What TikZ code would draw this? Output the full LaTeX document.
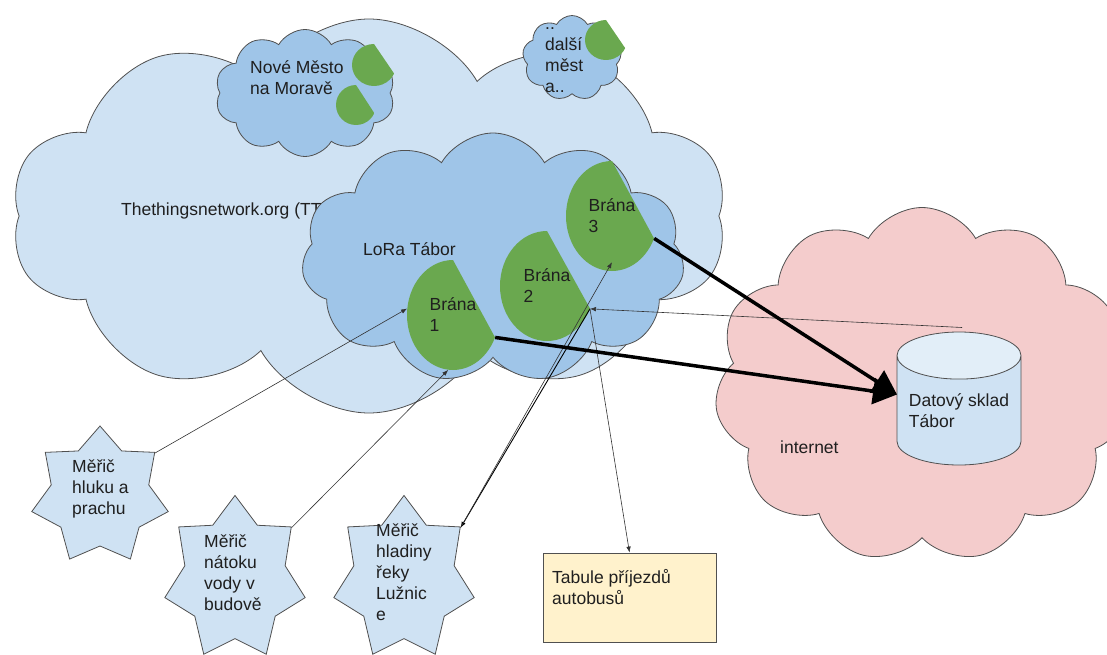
\documentclass[tikz,border=0pt]{standalone}
\usepackage{fontspec}
\setmainfont{Liberation Sans}
\usetikzlibrary{shapes.symbols,shapes.geometric,arrows.meta,calc}
\definecolor{ttnblue}{HTML}{CFE2F3}
\definecolor{lorablue}{HTML}{9FC5E8}
\definecolor{gwgreen}{HTML}{6AA84F}
\definecolor{netpink}{HTML}{F4CCCC}
\definecolor{boardyellow}{HTML}{FFF2CC}
\definecolor{outline}{HTML}{505050}
\tikzset{
  txt/.style={font=\fontsize{17.5}{21}\selectfont, align=left, inner sep=0pt, text=black!88},
  mrak/.style={cloud, draw=outline, line width=0.8pt, cloud puff arc=120, inner sep=0pt},
  gateway/.style={ellipse, inner sep=0pt, txt,
    path picture={\fill[gwgreen] (path picture bounding box.north)
      -- ($(path picture bounding box.east)!0.54!(path picture bounding box.south east)$)
      -- (path picture bounding box.south east) -- (path picture bounding box.south west)
      -- (path picture bounding box.north west) -- cycle;}},
  sensor/.style={star, star points=7, star point ratio=1.4, draw=outline, fill=ttnblue,
    line width=0.8pt, inner sep=0pt, minimum size=#1},
  link/.style={draw=black!80, line width=0.6pt, -{Latex[length=6pt,width=4.5pt]}},
  uplink/.style={line width=3.5pt, -{Triangle[length=24pt,width=26pt]}},
}
\begin{document}
\begin{tikzpicture}[x=1pt,y=-1pt]
	\useasboundingbox (0,0) rectangle (1107,655);
	% clouds
	\node (TTN) at (369,216) [mrak, fill=ttnblue, cloud puffs=10, aspect=1.8, minimum width=716pt, minimum height=394pt] {};
	\node (TTNtext) at (121,215) [txt, anchor=base west] {Thethingsnetwork.org (TTN)};
	\node (NM) at (305,93) [mrak, fill=lorablue, cloud puffs=10, aspect=1.4, minimum width=180pt, minimum height=127pt] {};
	\node (NMtext) at (250,95) [txt, anchor=base west] {Nové Město\\na Moravě};
	\node (NMg1) at (374,65) [gateway, minimum width=44pt, minimum height=42pt] {};
	\node (NMg2) at (356,105) [gateway, minimum width=40pt, minimum height=40pt] {};
	\node (DM) at (572,58) [mrak, fill=lorablue, cloud puffs=9, aspect=1.2, minimum width=99pt, minimum height=85pt] {};
	\node (DMtext) at (545,93) [txt, anchor=base west] {..\\další\\měst\\a..};
	\node (DMg) at (606,40) [gateway, minimum width=42pt, minimum height=40pt] {};
	\node (LoRa) at (493,258) [mrak, fill=lorablue, cloud puffs=11, aspect=1.5, minimum width=383pt, minimum height=250pt] {};
	\node (LoRatext) at (363,255) [txt, anchor=base west] {LoRa Tábor};
	\node (NET) at (922,385) [mrak, fill=netpink, cloud puffs=11, aspect=1.1, minimum width=415pt, minimum height=355pt] {};
	\node (NETtext) at (780,453) [txt, anchor=base west] {internet};
	% gateways
	\node (B1) at (453,315) [gateway, minimum width=92pt, minimum height=110pt] {Brána\\1};
	\node (B2) at (547,286) [gateway, minimum width=94pt, minimum height=110pt] {Brána\\2};
	\node (B3) at (612,216) [gateway, minimum width=92pt, minimum height=110pt] {Brána\\3};
	% data store and board
	\node (sklad) at (959,398.5) [cylinder, shape border rotate=90, shape aspect=0.47, draw=outline, line width=0.8pt,
		cylinder uses custom fill, cylinder body fill=ttnblue, cylinder end fill=ttnblue!60!white,
		minimum width=124pt, minimum height=133pt, txt, anchor=shape center] {Datový sklad\\Tábor};
	\coordinate (skladtop) at ($(sklad.shape center)+(3,-71)$);
	\coordinate (skladin) at ($(sklad.shape center)+(-62,-4)$);
	\node (tabule) at (629.5,597.5) [rectangle, draw=outline, line width=0.8pt, fill=boardyellow, minimum width=173pt, minimum height=89pt] {};
	\node (tabuletext) at (552,604) [txt, anchor=base west] {Tabule příjezdů\\autobusů};
	% sensors
	\node (M1) at (100,496) [sensor=140pt] {};
	\node (M1text) at (72,514) [txt, anchor=base west] {Měřič\\hluku a\\prachu};
	\node (M2) at (235,579) [sensor=144pt, yscale=1.16, transform shape] {};
	\node (M2text) at (204,610) [txt, anchor=base west] {Měřič\\nátoku\\vody v\\budově};
	\node (M3) at (404,579) [sensor=144pt, yscale=1.16, transform shape] {};
	\node (M3text) at (376,620) [txt, anchor=base west] {Měřič\\hladiny\\řeky\\Lužnic\\e};
	% connectors
	\draw[link] (M1.38.57) -- (B1.172);
	\draw[link] (M2.38.57) -- (B1.265);
	\draw[link, draw=black, line width=0.9pt] (B2.-28) -- (M3.38.57);
	\draw[link] (M3.38.57) -- ([yshift=9pt]B3.south);
	\draw[link] (skladtop) -- (B2.-28);
	\draw[link] (B2.-28) -- (tabule.north);
	\draw[uplink] (B1.-28) -- (skladin);
	\draw[uplink] (B3.-28) -- (skladin);
\end{tikzpicture}
\end{document}
